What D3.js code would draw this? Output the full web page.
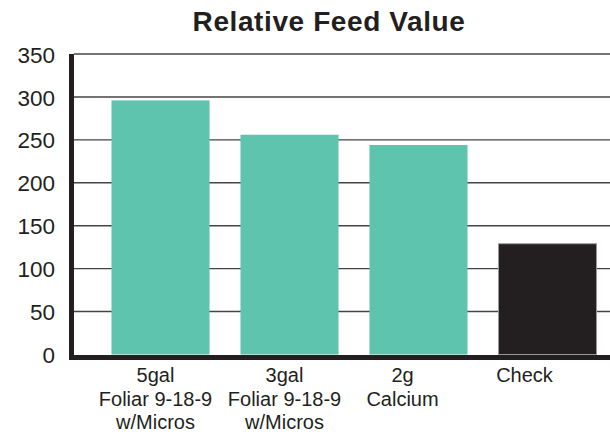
<!DOCTYPE html>
<html>
<head>
<meta charset="utf-8">
<script src="https://cdn.jsdelivr.net/npm/d3@7"></script>
<style>
  body { margin: 0; background: #fff; }
  text { font-family: "Liberation Sans", Arial, sans-serif; fill: #231f20; }
</style>
</head>
<body>
<svg width="610" height="435"></svg>
<script>
// data
const categories = ["5gal", "3gal", "2g", "Check"];
const labelLines = [
    ["5gal", "Foliar 9-18-9", "w/Micros"],
    ["3gal", "Foliar 9-18-9", "w/Micros"],
    ["2g", "Calcium"],
    ["Check"]
];
const values = [296, 256, 244, 129];
const yTicks = [0, 50, 100, 150, 200, 250, 300, 350];

const svg = d3.select("svg"),
    width = +svg.attr("width"),
    height = +svg.attr("height");

const plotLeft = 74, plotTop = 54, plotBottom = 354.5;

const x = d3.scaleBand()
    .domain(categories)
    .range([96, 612])
    .paddingInner(0.24)
    .paddingOuter(0.12);

const y = d3.scaleLinear()
    .domain([0, 350])
    .range([plotBottom, plotTop]);

// grid lines
svg.append("g")
    .selectAll("line")
    .data(yTicks.filter(d => d > 0))
    .enter().append("line")
    .attr("x1", plotLeft)
    .attr("x2", width)
    .attr("y1", d => y(d))
    .attr("y2", d => y(d))
    .style("stroke", "#444")
    .style("stroke-width", 1.4);

// bars
svg.append("g")
    .selectAll("rect")
    .data(values)
    .enter().append("rect")
    .attr("x", (d, i) => x(categories[i]))
    .attr("y", d => y(d))
    .attr("width", x.bandwidth())
    .attr("height", d => plotBottom - y(d))
    .style("fill", (d, i) => i === 3 ? "#231f20" : "#5ec4ad")
    .style("stroke", (d, i) => i === 3 ? "#999" : "none")
    .style("stroke-width", 1);

// y axis
const yAxis = svg.append("g")
    .attr("transform", `translate(${plotLeft - 5},0)`)
    .call(d3.axisLeft(y).tickValues(yTicks).tickSize(0).tickPadding(14));
yAxis.select(".domain").remove();
yAxis.selectAll("text")
    .style("font-size", "22.5px")
    .attr("dy", "0.36em");

// axis lines (thick)
svg.append("line")
    .attr("x1", 71.5).attr("x2", 71.5)
    .attr("y1", plotTop).attr("y2", 360)
    .style("stroke", "#231f20").style("stroke-width", 5);
svg.append("line")
    .attr("x1", 69).attr("x2", width)
    .attr("y1", 357.5).attr("y2", 357.5)
    .style("stroke", "#231f20").style("stroke-width", 5);

// x labels
const labelShift = [-5, -5, -16, -23];
const xl = svg.append("g")
    .selectAll("text")
    .data(labelLines)
    .enter().append("text")
    .attr("text-anchor", "middle")
    .style("font-size", "20px")
    .attr("transform", (d, i) => `translate(${x(categories[i]) + x.bandwidth() / 2 + labelShift[i]},382)`);
xl.selectAll("tspan")
    .data(d => d)
    .enter().append("tspan")
    .attr("x", 0)
    .attr("y", (d, i) => i * 23.5)
    .text(d => d);

// title
svg.append("text")
    .attr("x", 329)
    .attr("y", 30.5)
    .attr("text-anchor", "middle")
    .style("font-size", "28px")
    .style("font-weight", "bold")
    .style("letter-spacing", "0.6px")
    .text("Relative Feed Value");
</script>
</body>
</html>
